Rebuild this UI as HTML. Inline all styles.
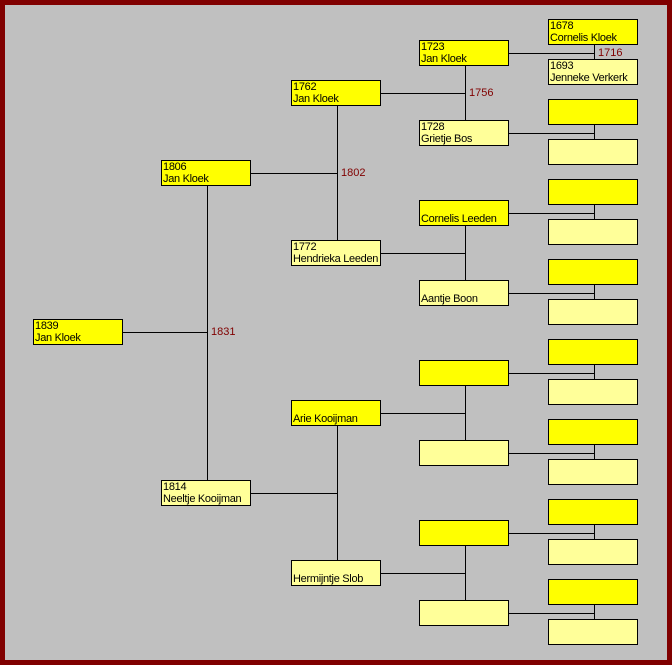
<!DOCTYPE html>
<html><head><meta charset="utf-8"><style>
html,body{margin:0;padding:0}
body{width:672px;height:665px;position:relative;overflow:hidden;background:#800000;font-family:"Liberation Sans",Arial,sans-serif}
#in{position:absolute;left:5px;top:5px;width:662px;height:655px;background:#c0c0c0}
.b{position:absolute;width:88px;height:24px;border:1px solid #000;font-size:11px;line-height:12px;padding:0;box-sizing:content-box;white-space:nowrap;overflow:hidden;letter-spacing:-0.3px}
.b span{position:absolute;left:1px;top:0px}
.f{background:#ffff00}.m{background:#ffff99}
.l{position:absolute;font-size:11px;color:#800000;line-height:12px}
svg{position:absolute;left:0;top:0}
</style></head><body><div id="in"></div>
<div id="out"></div>
<script>
var X=[33,161,291,419,548];
function ty(g,k){return [319,160+320*k,80+160*k,40+80*k,19+40*k][g];}
var T={
"0,0":["1839","Jan Kloek"],
"1,0":["1806","Jan Kloek"],"1,1":["1814","Neeltje Kooijman"],
"2,0":["1762","Jan Kloek"],"2,1":["1772","Hendrieka Leeden"],"2,2":["","Arie Kooijman"],"2,3":["","Hermijntje Slob"],
"3,0":["1723","Jan Kloek"],"3,1":["1728","Grietje Bos"],"3,2":["","Cornelis Leeden"],"3,3":["","Aantje Boon"],
"4,0":["1678","Cornelis Kloek"],"4,1":["1693","Jenneke Verkerk"]};
var L={"0,0":"1831","1,0":"1802","2,0":"1756","3,0":"1716"};
var s="",h="";
var counts=[1,2,4,8,16];
for(var g=0;g<5;g++)for(var k=0;k<counts[g];k++){
 var x=X[g],y=ty(g,k),t=T[g+","+k]||["",""];
 h+='<div class="b '+(k%2?'m':'f')+'" style="left:'+x+'px;top:'+y+'px"><span>'+(t[0]||'&nbsp;')+'<br>'+(t[1]||'&nbsp;')+'</span></div>';
 if(g<4){
  var fy=ty(g+1,2*k),my=ty(g+1,2*k+1),vx=X[g+1]+46,cy=y+13;
  s+='<line x1="'+(x+90)+'" y1="'+(cy+0.5)+'" x2="'+(vx+0.5)+'" y2="'+(cy+0.5)+'" stroke="#000"/>';
  s+='<line x1="'+(vx+0.5)+'" y1="'+(fy+26)+'" x2="'+(vx+0.5)+'" y2="'+my+'" stroke="#000"/>';
  var lb=L[g+","+k];
  if(lb)h+='<div class="l" style="left:'+(vx+4)+'px;top:'+(cy-6)+'px">'+lb+'</div>';
 }
}
document.getElementById('out').innerHTML='<svg width="672" height="665" xmlns="http://www.w3.org/2000/svg">'+s+'</svg>'+h;
</script>
</body></html>
